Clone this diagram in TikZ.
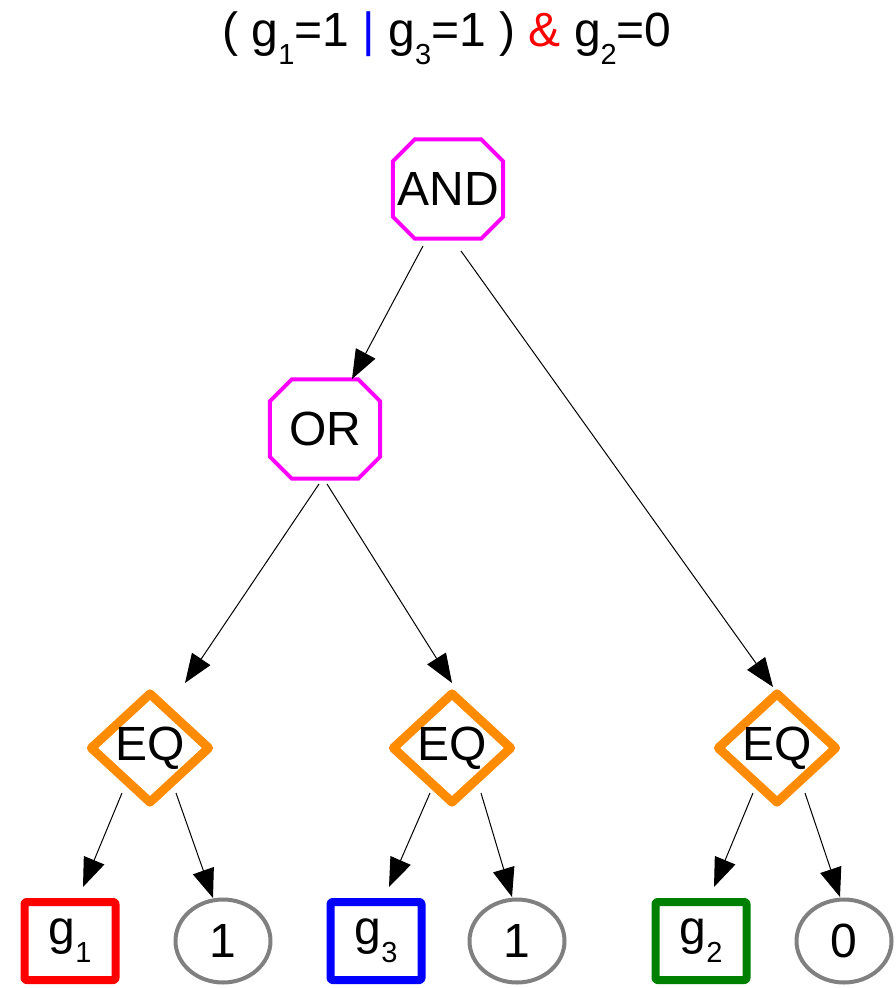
\documentclass[tikz,border=0pt]{standalone}
\usepackage{fontspec}
\setmainfont{Liberation Sans}
\usetikzlibrary{arrows.meta,shapes.geometric,calc}
\definecolor{gatepink}{RGB}{255,0,255}
\definecolor{eqorange}{RGB}{255,140,0}
\definecolor{leafgreen}{RGB}{0,128,0}
\definecolor{constgray}{RGB}{128,128,128}
\newcommand{\gsub}[1]{\raisebox{-18pt}{\fontsize{29}{29}\selectfont #1}}

\begin{document}
\begin{tikzpicture}[x=1pt,y=-1pt,join=round,
        every node/.style={font=\fontsize{48}{52}\selectfont,inner sep=0pt},
        gate/.style={rectangle,minimum width=110pt,minimum height=99pt},
        gateline/.style={draw=gatepink,line width=4pt,line join=miter},
        eqgate/.style={diamond,draw=eqorange,line width=9pt,
                minimum width=121pt,minimum height=112pt},
        leaf/.style={rectangle,draw=#1,line width=8pt,rounded corners=2pt,
                minimum width=91pt,minimum height=78pt},
        const/.style={ellipse,draw=constgray,line width=4pt,
                minimum width=95pt,minimum height=83pt},
        edge/.style={line width=1pt,-{Triangle[length=29pt,width=22pt]}}]
        \useasboundingbox (0,0) rectangle (895,988);
        % formula
        \node[anchor=base] (title) at (447,46)
                {( g\gsub{1}=1 {\color{blue}|} g\gsub{3}=1 ) {\color{red}\&} g\gsub{2}=0};
        % gates
        \node[gate] (and) at (448,189) {AND};
        \node[gate] (or) at (325,429) {OR};
        \foreach \n in {and,or}
                \draw[gateline] ($(\n.north west)+(22,0)$) -- ($(\n.north east)+(-22,0)$)
                        -- ($(\n.north east)+(0,22)$) -- ($(\n.south east)+(0,-22)$)
                        -- ($(\n.south east)+(-22,0)$) -- ($(\n.south west)+(22,0)$)
                        -- ($(\n.south west)+(0,-22)$) -- ($(\n.north west)+(0,22)$) -- cycle;
        \node[eqgate] (eq1) at (150,748) {EQ};
        \node[eqgate] (eq2) at (452,748) {EQ};
        \node[eqgate] (eq3) at (777,748) {EQ};
        % leaves
        \node[leaf=red] (g1) at (70,941) {g\gsub{1}};
        \node[const] (c1) at (223,941) {1};
        \node[leaf=blue] (g3) at (376,941) {g\gsub{3}};
        \node[const] (c3) at (517,941) {1};
        \node[leaf=leafgreen] (g2) at (701,941) {g\gsub{2}};
        \node[const] (c2) at (844,941) {0};
        % edges
        \draw[edge] ($(and)+(-25,57)$) -- ($(or)+(27,-50)$);
        \draw[edge] ($(and)+(13,62)$) -- ($(eq3)+(-4,-61)$);
        \draw[edge] ($(or)+(-6,55)$) -- ($(eq1)+(35,-65)$);
        \draw[edge] ($(or)+(2,55)$) -- ($(eq2)+(0,-65)$);
        \draw[edge] ($(eq1)+(-28,45)$) -- ($(g1)+(13,-54)$);
        \draw[edge] ($(eq1)+(26,45)$) -- ($(c1)+(-10,-43)$);
        \draw[edge] ($(eq2)+(-22,45)$) -- ($(g3)+(13,-54)$);
        \draw[edge] ($(eq2)+(29,45)$) -- ($(c3)+(-5,-44)$);
        \draw[edge] ($(eq3)+(-24,45)$) -- ($(g2)+(13,-54)$);
        \draw[edge] ($(eq3)+(28,45)$) -- ($(c2)+(-4,-44)$);
\end{tikzpicture}
\end{document}
